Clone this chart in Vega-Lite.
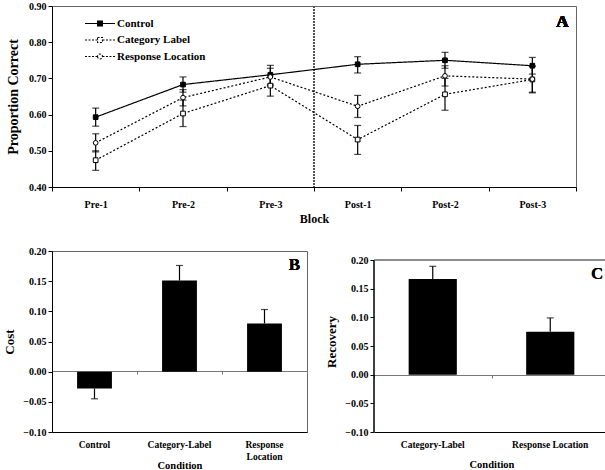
{
  "$schema": "https://vega.github.io/schema/vega-lite/v6.json",
  "background": "white",
  "padding": {"top": 0, "left": 3, "right": 1, "bottom": 2},
  "config": {
    "font": "Liberation Serif",
    "view": {"stroke": "#666", "strokeWidth": 1},
    "axis": {
      "labelFont": "Liberation Serif", "labelFontWeight": "bold", "labelFontSize": 10, "labelColor": "black",
      "titleFont": "Liberation Serif", "titleFontWeight": "bold", "titleColor": "black",
      "domainColor": "black", "tickColor": "black", "grid": false, "tickSize": 4, "labelOverlap": false
    },
    "legend": {"labelFont": "Liberation Serif", "labelFontWeight": "bold", "labelFontSize": 11, "labelColor": "black"}
  },
  "datasets": {
    "blocks": [
      {"block": "Pre-1", "cond": "Control", "mean": 0.593, "lo": 0.568, "hi": 0.618},
      {"block": "Pre-2", "cond": "Control", "mean": 0.683, "lo": 0.662, "hi": 0.704},
      {"block": "Pre-3", "cond": "Control", "mean": 0.710, "lo": 0.684, "hi": 0.736},
      {"block": "Post-1", "cond": "Control", "mean": 0.739, "lo": 0.715, "hi": 0.760},
      {"block": "Post-2", "cond": "Control", "mean": 0.750, "lo": 0.728, "hi": 0.772},
      {"block": "Post-3", "cond": "Control", "mean": 0.735, "lo": 0.712, "hi": 0.758},
      {"block": "Pre-1", "cond": "Category Label", "mean": 0.474, "lo": 0.446, "hi": 0.500},
      {"block": "Pre-2", "cond": "Category Label", "mean": 0.603, "lo": 0.567, "hi": 0.640},
      {"block": "Pre-3", "cond": "Category Label", "mean": 0.680, "lo": 0.651, "hi": 0.710},
      {"block": "Post-1", "cond": "Category Label", "mean": 0.531, "lo": 0.490, "hi": 0.570},
      {"block": "Post-2", "cond": "Category Label", "mean": 0.656, "lo": 0.612, "hi": 0.700},
      {"block": "Post-3", "cond": "Category Label", "mean": 0.697, "lo": 0.660, "hi": 0.734},
      {"block": "Pre-1", "cond": "Response Location", "mean": 0.522, "lo": 0.497, "hi": 0.547},
      {"block": "Pre-2", "cond": "Response Location", "mean": 0.647, "lo": 0.624, "hi": 0.669},
      {"block": "Pre-3", "cond": "Response Location", "mean": 0.704, "lo": 0.680, "hi": 0.728},
      {"block": "Post-1", "cond": "Response Location", "mean": 0.623, "lo": 0.592, "hi": 0.653},
      {"block": "Post-2", "cond": "Response Location", "mean": 0.707, "lo": 0.679, "hi": 0.735},
      {"block": "Post-3", "cond": "Response Location", "mean": 0.698, "lo": 0.662, "hi": 0.734}
    ],
    "cost": [
      {"cond": "Control", "value": -0.028, "end": -0.045},
      {"cond": "Category-Label", "value": 0.151, "end": 0.176},
      {"cond": "Response Location", "value": 0.080, "end": 0.103}
    ],
    "recovery": [
      {"cond": "Category-Label", "value": 0.167, "end": 0.189},
      {"cond": "Response Location", "value": 0.075, "end": 0.099}
    ]
  },
  "spacing": 20,
  "vconcat": [
    {
      "width": 524,
      "height": 181,
      "data": {"name": "blocks"},
      "encoding": {
        "x": {
          "field": "block", "type": "nominal", "sort": null,
          "scale": {"type": "band", "paddingInner": 0, "paddingOuter": 0, "domain": ["Pre-1", "Pre-2", "Pre-3", "Post-1", "Post-2", "Post-3"]},
          "axis": {"title": "Block", "labelAngle": 0, "tickBand": "extent", "titleFontSize": 12, "labelPadding": 8, "titlePadding": 4}
        }
      },
      "layer": [
        {
          "mark": {"type": "rule", "color": "#555", "strokeDash": [1.5, 1.5], "strokeWidth": 1},
          "encoding": {"x": {"datum": "Post-1", "bandPosition": 0}}
        },
        {
          "mark": {"type": "line", "color": "black", "strokeWidth": 1.2},
          "encoding": {
            "y": {
              "field": "mean", "type": "quantitative",
              "scale": {"domain": [0.4, 0.9], "nice": false, "zero": false},
              "axis": {"title": "Proportion Correct", "tickCount": 5, "format": ".2f", "labelOverlap": false, "titleFontSize": 14, "titlePadding": 8}
            },
            "detail": {"field": "cond"},
            "strokeDash": {
              "condition": {"test": "datum.cond === 'Control'", "value": [1, 0]},
              "value": [2, 2]
            }
          }
        },
        {
          "mark": {"type": "errorbar", "color": "black", "ticks": {"size": 7, "thickness": 1.2}, "rule": {"strokeWidth": 1.2}},
          "encoding": {
            "y": {"field": "lo", "type": "quantitative", "title": "Proportion Correct"},
            "y2": {"field": "hi"},
            "detail": {"field": "cond"}
          }
        },
        {
          "mark": {"type": "point", "size": 22, "strokeWidth": 1, "stroke": "black"},
          "encoding": {
            "y": {"field": "mean", "type": "quantitative"},
            "fill": {"condition": {"test": "datum.cond === 'Control'", "value": "black"}, "value": "white"},
            "shape": {"condition": {"test": "datum.cond === 'Response Location'", "value": "circle"}, "value": "square"},
            "opacity": {
              "field": "cond", "type": "nominal",
              "scale": {"type": "ordinal", "domain": ["Control", "Category Label", "Response Location"], "range": [1, 1, 1]},
              "legend": {
                "title": null, "orient": "none", "legendX": 47, "legendY": 9, "padding": 0,
                "symbolSize": 225, "symbolStrokeWidth": 1.1, "rowPadding": 2.5, "labelOffset": 1,
                "encoding": {
                  "symbols": {
                    "shape": {"value": {"expr": "datum.value === 'Response Location' ? 'M-3,0H-1.33M-0.67,0H1M-1.33,0A0.33,0.33 0 1,0 -0.67,0A0.33,0.33 0 1,0 -1.33,0Z' : 'M-3,0H-1.33M-0.67,0H1M-1.33,-0.33H-0.67V0.33H-1.33Z'"}},
                    "fill": {"value": {"expr": "datum.value === 'Control' ? 'black' : 'white'"}},
                    "stroke": {"value": "black"},
                    "strokeDash": {"value": {"expr": "datum.value === 'Control' ? [1, 0] : [2, 1.5]"}}
                  }
                }
              }
            }
          }
        },
        {
          "mark": {"type": "text", "text": "A", "font": "Liberation Serif", "fontWeight": "bold", "fontSize": 17, "dx": 30},
          "encoding": {"x": {"datum": "Post-3"}, "y": {"datum": 0.857}}
        }
      ]
    },
    {
      "spacing": 17,
      "hconcat": [
        {
          "width": 255,
          "height": 181,
          "data": {"name": "cost"},
          "resolve": {"axis": {"x": "independent"}},
          "layer": [
            {
              "mark": {"type": "bar", "color": "black", "width": {"band": 0.41}},
              "encoding": {
                "x": {
                  "field": "cond", "type": "nominal", "sort": null,
                  "scale": {"type": "band", "paddingInner": 0, "paddingOuter": 0},
                  "axis": {"orient": "bottom", "offset": -61, "title": null, "labels": false, "tickBand": "extent", "tickSize": 3, "domainColor": "#777", "tickColor": "#777"}
                },
                "y": {
                  "field": "value", "type": "quantitative",
                  "scale": {"domain": [-0.1, 0.2], "nice": false},
                  "axis": {"title": "Cost", "tickCount": 6, "format": ".2f", "labelOverlap": false, "titleFontSize": 13, "titlePadding": 6}
                },
                "y2": {"datum": 0}
              }
            },
            {
              "mark": {"type": "rule", "color": "black", "strokeWidth": 1.2},
              "encoding": {
                "x": {
                  "field": "cond", "type": "nominal", "sort": null,
                  "axis": {
                    "orient": "bottom", "title": "Condition", "labelAngle": 0, "ticks": false, "titleFontSize": 10.5, "labelFontSize": 9.5,
                    "labelPadding": 7, "titlePadding": 0, "labelLineHeight": 12,
                    "labelExpr": "datum.label === 'Response Location' ? ['Response', 'Location'] : datum.label"
                  }
                },
                "y": {"field": "value", "type": "quantitative"},
                "y2": {"field": "end"}
              }
            },
            {
              "mark": {"type": "tick", "color": "black", "size": 7, "thickness": 1.2},
              "encoding": {"x": {"field": "cond", "type": "nominal", "sort": null, "axis": null}, "y": {"field": "end", "type": "quantitative"}}
            },
            {
              "mark": {"type": "text", "text": "B", "font": "Liberation Serif", "fontWeight": "bold", "fontSize": 17, "dx": 30},
              "encoding": {"x": {"datum": "Response Location", "axis": null}, "y": {"datum": 0.177}}
            }
          ]
        },
        {
          "width": 235,
          "height": 181,
          "view": {"stroke": null},
          "data": {"name": "recovery"},
          "resolve": {"axis": {"x": "independent"}},
          "layer": [
            {
              "mark": {"type": "bar", "color": "black", "width": {"band": 0.41}},
              "encoding": {
                "x": {
                  "field": "cond", "type": "nominal", "sort": null,
                  "scale": {"type": "band", "paddingInner": 0, "paddingOuter": 0},
                  "axis": {"orient": "bottom", "offset": -57, "title": null, "labels": false, "tickBand": "extent", "tickSize": 3, "domainColor": "#777", "tickColor": "#777"}
                },
                "y": {
                  "field": "value", "type": "quantitative",
                  "scale": {"domain": [-0.1, 0.2157], "nice": false},
                  "axis": {"title": "Recovery", "tickCount": 6, "format": ".2f", "labelOverlap": false, "titleFontSize": 13, "titlePadding": 6, "domain": false}
                },
                "y2": {"datum": 0}
              }
            },
            {
              "mark": {"type": "rule", "color": "black", "strokeWidth": 1.2},
              "encoding": {
                "x": {
                  "field": "cond", "type": "nominal", "sort": null,
                  "axis": {"orient": "bottom", "title": "Condition", "labelAngle": 0, "ticks": false, "titleFontSize": 10.5, "labelFontSize": 9.5, "labelPadding": 7, "titlePadding": 11}
                },
                "y": {"field": "value", "type": "quantitative"},
                "y2": {"field": "end"}
              }
            },
            {
              "mark": {"type": "tick", "color": "black", "size": 7, "thickness": 1.2},
              "encoding": {"x": {"field": "cond", "type": "nominal", "sort": null, "axis": null}, "y": {"field": "end", "type": "quantitative"}}
            },
            {
              "mark": {"type": "rule", "color": "black", "strokeWidth": 1},
              "encoding": {"x": {"datum": "Category-Label", "bandPosition": 0, "axis": null}, "y": {"datum": -0.1}, "y2": {"datum": 0.2}}
            },
            {
              "mark": {"type": "rule", "color": "#666", "strokeWidth": 1},
              "encoding": {"x": {"datum": "Response Location", "bandPosition": 1, "axis": null}, "y": {"datum": -0.1}, "y2": {"datum": 0.2}}
            },
            {
              "mark": {"type": "rule", "color": "#666", "strokeWidth": 1},
              "encoding": {"x": {"datum": "Category-Label", "bandPosition": 0, "axis": null}, "x2": {"datum": "Response Location", "bandPosition": 1}, "y": {"datum": 0.2}}
            },
            {
              "mark": {"type": "text", "text": "C", "font": "Liberation Serif", "fontWeight": "bold", "fontSize": 17, "dx": 47},
              "encoding": {"x": {"datum": "Response Location", "axis": null}, "y": {"datum": 0.176}}
            }
          ]
        }
      ]
    }
  ]
}
